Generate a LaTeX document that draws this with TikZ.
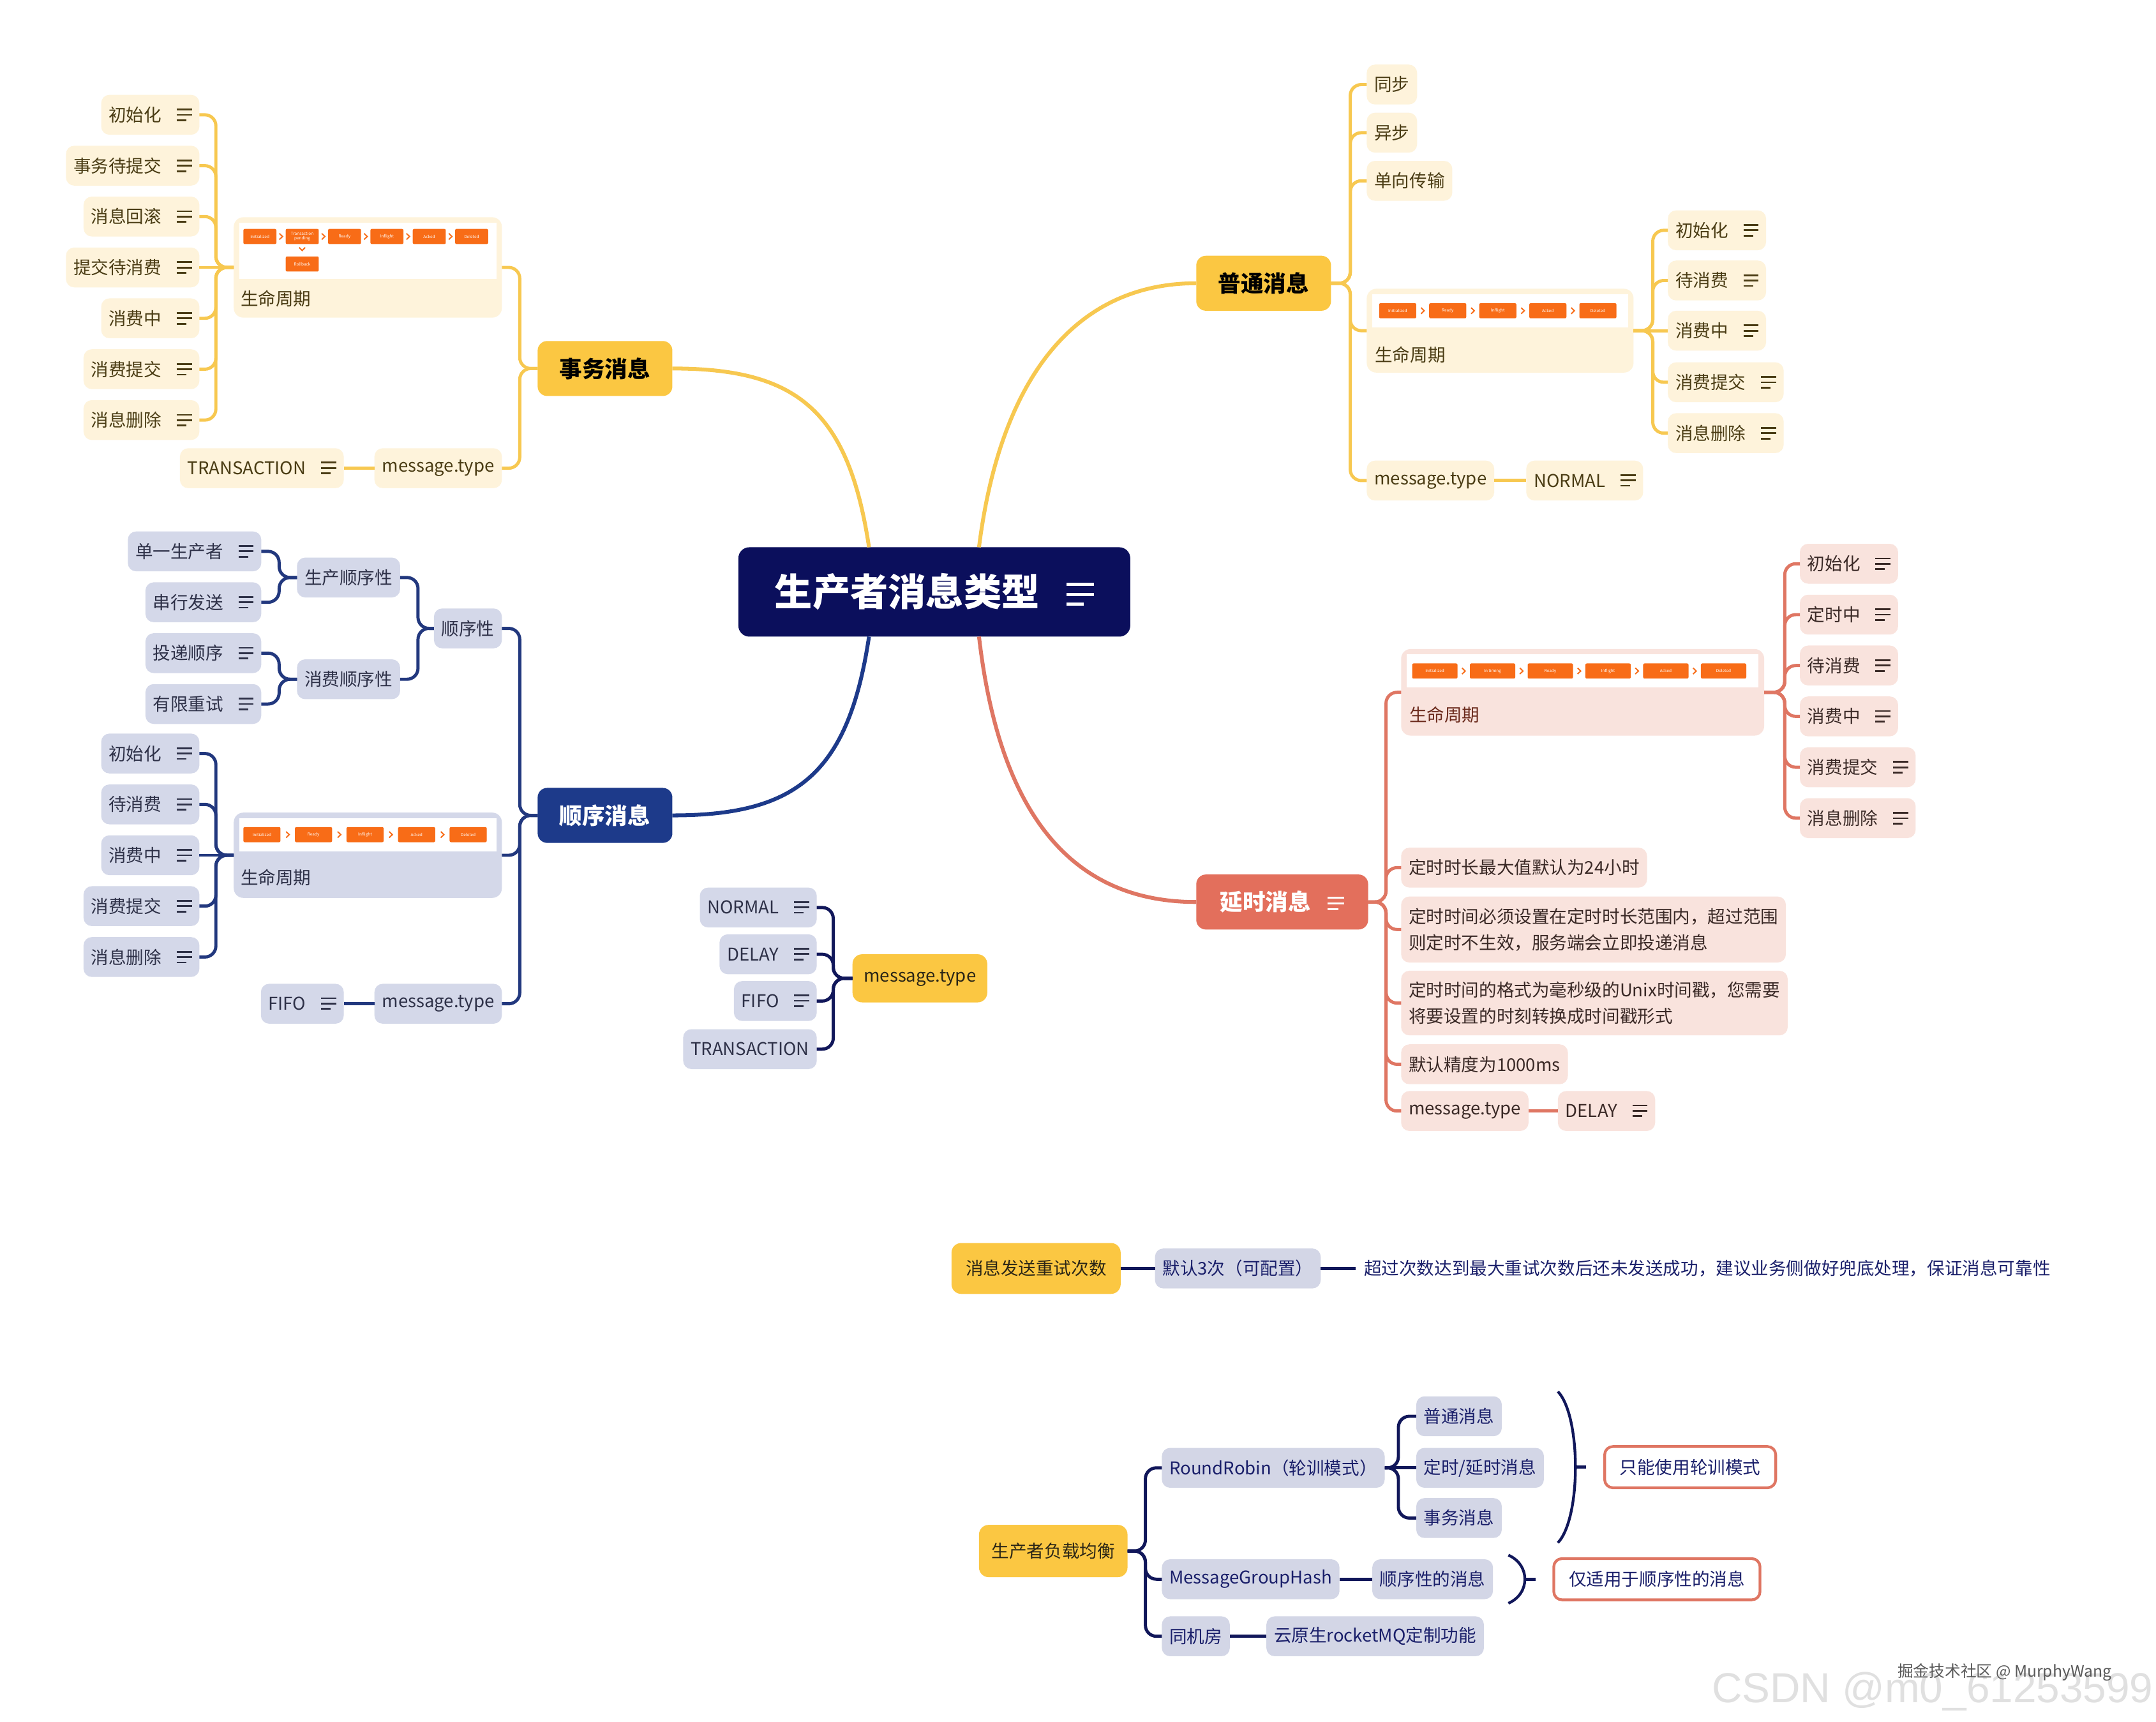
\documentclass[tikz,border=0pt]{standalone}
\usepackage{fontspec}
\setmainfont{Noto Sans CJK SC}
\newfontfamily\wmfont{Liberation Sans}
\definecolor{cyel}{HTML}{FBC742}
\definecolor{cyelline}{HTML}{F7C850}
\definecolor{cyelfill}{HTML}{FEF3DB}
\definecolor{cyeltext}{HTML}{4A3C14}
\definecolor{cdark}{HTML}{2B2616}
\definecolor{cnavy}{HTML}{0B0F5C}
\definecolor{cblue}{HTML}{1D3A8A}
\definecolor{cblueline}{HTML}{22387E}
\definecolor{cgrey}{HTML}{D4D8E9}
\definecolor{cgreytext}{HTML}{2E3148}
\definecolor{cred}{HTML}{E36F5C}
\definecolor{credline}{HTML}{DF7663}
\definecolor{credfill}{HTML}{F9E3DD}
\definecolor{credtext}{HTML}{3A2926}
\definecolor{credlab}{HTML}{6B2A1C}
\definecolor{corange}{HTML}{F86C17}
\definecolor{cbotline}{HTML}{11175A}
\definecolor{cbottext}{HTML}{1A1F6A}
\definecolor{cgrey2}{HTML}{D3D6E6}

\newcommand{\menuic}[1][1]{%
 \hspace{#1\dimexpr 11pt\relax}%
 \raisebox{#1\dimexpr 0.3pt\relax}{\vbox{%
   \hrule width #1\dimexpr 11pt\relax height #1\dimexpr 1.3pt\relax
   \vskip #1\dimexpr 2.6pt\relax
   \hrule width #1\dimexpr 11pt\relax height #1\dimexpr 1.3pt\relax
   \vskip #1\dimexpr 2.6pt\relax
   \hrule width #1\dimexpr 7pt\relax height #1\dimexpr 1.3pt\relax}}}

\newcommand{\elR}[4]{\draw[#1] (#2.east) -- (#2.east -| #3) -- (#4.west -| #3) -- (#4.west);}
\newcommand{\elL}[4]{\draw[#1] (#2.west) -- (#2.west -| #3) -- (#4.east -| #3) -- (#4.east);}

\newcommand{\chiprow}[6]{%
  \foreach \t [count=\i from 0] in {#6} {%
    \node[chip, minimum width=#5pt] (#1\i) at ({#2+\i*#4},#3) {\t};
    \ifnum\i>0
      \pgfmathsetmacro{\cx}{#2+\i*#4-(#4-#5)/2}
      \draw[chev] ({\cx-1.2},{#3-2.2}) -- ({\cx+1.1},#3) -- ({\cx-1.2},{#3+2.2});
    \fi
  }}

\begin{document}
\begin{tikzpicture}[x=1pt,y=-1pt,
  every node/.style={inner sep=0pt, outer sep=0pt},
  f/.style={font=\fontsize{12.8}{15.5}\selectfont},
  box/.style={f, rounded corners=6pt, inner xsep=5.5pt, inner ysep=0pt, minimum height=29pt, anchor=west},
  yleaf/.style={box, fill=cyelfill, text=cyeltext},
  gleaf/.style={box, fill=cgrey, text=cgreytext},
  rleaf/.style={box, fill=credfill, text=credtext},
  bleaf/.style={box, fill=cgrey2, text=cbottext},
  lcbox/.style={rounded corners=7pt, anchor=west},
  chip/.style={fill=corange, text=white, rounded corners=1pt, minimum height=11pt, font=\fontsize{3}{3.4}\selectfont, anchor=west, align=center},
  chev/.style={draw=corange, line width=0.9pt},
  mainbox/.style={rounded corners=7pt, minimum height=40pt, font=\fontsize{16.5}{20}\selectfont\bfseries, anchor=west},
  conn/.style={line width=2.3pt, rounded corners=8pt},
  yconn/.style={conn, draw=cyelline},
  bconn/.style={conn, draw=cblueline},
  rconn/.style={conn, draw=credline},
  nconn/.style={conn, draw=cbotline},
]
\useasboundingbox[fill=white] (0,0) rectangle (1568,1252);

% ---------- centre and main branches
\node[fill=cnavy, text=white, rounded corners=8pt, minimum width=285pt, minimum height=65pt,
      font=\fontsize{27.5}{32}\selectfont\bfseries] (ct) at (679.5,430.5) {生产者消息类型\menuic[1.8]};
\node[mainbox, fill=cyel, text=black, minimum width=98pt] (pt) at (870,206) {普通消息};
\node[mainbox, fill=cyel, text=black, minimum width=98pt] (tw) at (391,268) {事务消息};
\node[mainbox, fill=cblue, text=white, minimum width=98pt] (sx) at (391,593) {顺序消息};
\node[mainbox, fill=cred, text=white, minimum width=125pt] (ys) at (870,656) {延时消息\menuic[1.1]};

\draw[yconn, line width=2.8pt] ([xshift=32.5pt]ct.north) .. controls +(15,-120) and +(-90,0) .. (pt.west);
\draw[yconn, line width=2.8pt] ([xshift=-47.5pt]ct.north) .. controls +(-15,-100) and +(90,0) .. (tw.east);
\draw[conn, draw=cblue, line width=2.8pt] ([xshift=-47.5pt]ct.south) .. controls +(-15,100) and +(90,0) .. (sx.east);
\draw[rconn, line width=2.8pt] ([xshift=32.5pt]ct.south) .. controls +(15,130) and +(-90,0) .. (ys.west);

% ---------- 普通消息
\coordinate (s1) at (982,0);
\coordinate (s2) at (1202,0);
\node[yleaf] (p1) at (994,61.5) {同步};
\node[yleaf] (p2) at (994,96.5) {异步};
\node[yleaf] (p3) at (994,131.5) {单向传输};
\node[lcbox, fill=cyelfill, minimum width=194pt, minimum height=61pt] (plc) at (994,240.5) {};
\fill[white] (998,214) rectangle (1184,238);
\chiprow{pc}{1003}{226}{36.4}{27}{Initialized,Ready,Inflight,Acked,Deleted}
\node[f, text=cyeltext, anchor=west] (plcl) at (1000,258) {生命周期};
\node[yleaf] (pm) at (994,349.5) {message.type};
\node[yleaf] (pn) at (1110,349.5) {NORMAL\menuic};
\node[yleaf] (pa) at (1213,167.5) {初始化\menuic};
\node[yleaf] (pb) at (1213,204) {待消费\menuic};
\node[yleaf] (pcc) at (1213,240.5) {消费中\menuic};
\node[yleaf] (pd) at (1213,278) {消费提交\menuic};
\node[yleaf] (pe) at (1213,315) {消息删除\menuic};
\foreach \c in {p1,p2,p3,plc,pm} {\elR{yconn}{pt}{s1}{\c}}
\draw[yconn] (pm.east) -- (pn.west);
\foreach \c in {pa,pb,pd,pe} {\elR{yconn}{plc}{s2}{\c}}
\draw[yconn] (plc.east) -- (pcc.west);

% ---------- 事务消息
\coordinate (s3) at (378,0);
\coordinate (s4) at (157,0);
\node[lcbox, anchor=east, fill=cyelfill, minimum width=195pt, minimum height=73pt] (tlc) at (365,194.5) {};
\fill[white] (174,162) rectangle (361,203);
\chiprow{tc}{177}{172}{30.8}{24}{Initialized,{Transaction\\pending},Ready,Inflight,Acked,Deleted}
\draw[chev] (217.6,180) -- (219.8,182.2) -- (222,180);
\node[chip, minimum width=24pt] (trb) at (207.8,192) {Rollback};
\node[f, text=cyeltext, anchor=west] (tlcl) at (175,217) {生命周期};
\node[yleaf, anchor=east] (tm) at (365,340.5) {message.type};
\node[yleaf, anchor=east] (tt) at (250,340.5) {TRANSACTION\menuic};
\node[yleaf, anchor=east] (t1) at (145,83.5) {初始化\menuic};
\node[yleaf, anchor=east] (t2) at (145,120.5) {事务待提交\menuic};
\node[yleaf, anchor=east] (t3) at (145,157.5) {消息回滚\menuic};
\node[yleaf, anchor=east] (t4) at (145,194.5) {提交待消费\menuic};
\node[yleaf, anchor=east] (t5) at (145,231.5) {消费中\menuic};
\node[yleaf, anchor=east] (t6) at (145,268.5) {消费提交\menuic};
\node[yleaf, anchor=east] (t7) at (145,305.5) {消息删除\menuic};
\foreach \c in {tlc,tm} {\elL{yconn}{tw}{s3}{\c}}
\draw[yconn] (tm.west) -- (tt.east);
\foreach \c in {t1,t2,t3,t5,t6,t7} {\elL{yconn}{tlc}{s4}{\c}}
\draw[yconn] (tlc.west) -- (t4.east);

% ---------- 顺序消息
\coordinate (s5) at (378,0);
\coordinate (s6) at (304,0);
\coordinate (s7) at (203,0);
\coordinate (s8) at (157,0);
\node[gleaf, anchor=east] (q0) at (365,457) {顺序性};
\node[gleaf, anchor=east] (q1) at (291,420) {生产顺序性};
\node[gleaf, anchor=east] (q2) at (291,494) {消费顺序性};
\node[gleaf, anchor=east] (q11) at (190,401) {单一生产者\menuic};
\node[gleaf, anchor=east] (q12) at (190,438) {串行发送\menuic};
\node[gleaf, anchor=east] (q21) at (190,475) {投递顺序\menuic};
\node[gleaf, anchor=east] (q22) at (190,512) {有限重试\menuic};
\node[lcbox, anchor=east, fill=cgrey, minimum width=195pt, minimum height=62pt] (qlc) at (365,622) {};
\fill[white] (174,595) rectangle (361,619);
\chiprow{qc}{177}{607}{37.5}{27}{Initialized,Ready,Inflight,Acked,Deleted}
\node[f, text=cgreytext, anchor=west] (qlcl) at (175,638) {生命周期};
\node[gleaf, anchor=east] (q31) at (145,548) {初始化\menuic};
\node[gleaf, anchor=east] (q32) at (145,585) {待消费\menuic};
\node[gleaf, anchor=east] (q33) at (145,622) {消费中\menuic};
\node[gleaf, anchor=east] (q34) at (145,659) {消费提交\menuic};
\node[gleaf, anchor=east] (q35) at (145,696) {消息删除\menuic};
\node[gleaf, anchor=east] (qm) at (365,730) {message.type};
\node[gleaf, anchor=east] (qf) at (250,730) {FIFO\menuic};
\foreach \c in {q0,qlc,qm} {\elL{bconn}{sx}{s5}{\c}}
\foreach \c in {q1,q2} {\elL{bconn}{q0}{s6}{\c}}
\foreach \c in {q11,q12} {\elL{bconn}{q1}{s7}{\c}}
\foreach \c in {q21,q22} {\elL{bconn}{q2}{s7}{\c}}
\foreach \c in {q31,q32,q34,q35} {\elL{bconn}{qlc}{s8}{\c}}
\draw[bconn] (qlc.west) -- (q33.east);
\draw[bconn] (qm.west) -- (qf.east);

% ---------- message.type (standalone)
\coordinate (s9) at (606,0);
\node[box, fill=cyel, text=cdark, minimum width=98pt, minimum height=35pt, rounded corners=7pt] (mt) at (620,711.5) {message.type};
\node[gleaf, anchor=east] (m1) at (594,660) {NORMAL\menuic};
\node[gleaf, anchor=east] (m2) at (594,694) {DELAY\menuic};
\node[gleaf, anchor=east] (m3) at (594,728) {FIFO\menuic};
\node[gleaf, anchor=east] (m4) at (594,763) {TRANSACTION};
\foreach \c in {m1,m2,m3,m4} {\elL{nconn}{mt}{s9}{\c}}

% ---------- 延时消息
\coordinate (s10) at (1008,0);
\coordinate (s11) at (1298,0);
\node[lcbox, fill=credfill, minimum width=264pt, minimum height=63pt] (ylc) at (1019,503.5) {};
\fill[white] (1023,476) rectangle (1279,500);
\chiprow{yc}{1027}{488}{42}{33}{Initialized,In timing,Ready,Inflight,Acked,Deleted}
\node[f, text=credlab, anchor=west] (ylcl) at (1025,520) {生命周期};
\node[rleaf] (y1) at (1019,631) {定时时长最大值默认为24小时};
\node[rleaf, align=left, minimum height=48pt, font=\fontsize{12.8}{19}\selectfont] (y2) at (1019,676) {定时时间必须设置在定时时长范围内，超过范围\\则定时不生效，服务端会立即投递消息};
\node[rleaf, align=left, minimum height=47pt, font=\fontsize{12.8}{19}\selectfont] (y3) at (1019,729.5) {定时时间的格式为毫秒级的Unix时间戳，您需要\\将要设置的时刻转换成时间戳形式};
\node[rleaf] (y4) at (1019,774) {默认精度为1000ms};
\node[rleaf] (ym) at (1019,808) {message.type};
\node[rleaf] (yd) at (1133,808) {DELAY\menuic};
\node[rleaf] (ya) at (1309,410) {初始化\menuic};
\node[rleaf] (yb) at (1309,447) {定时中\menuic};
\node[rleaf] (yc2) at (1309,484) {待消费\menuic};
\node[rleaf] (ydd) at (1309,521) {消费中\menuic};
\node[rleaf] (ye) at (1309,558) {消费提交\menuic};
\node[rleaf] (yf) at (1309,595) {消息删除\menuic};
\foreach \c in {ylc,y1,y2,y3,y4,ym} {\elR{rconn}{ys}{s10}{\c}}
\draw[rconn] (ym.east) -- (yd.west);
\foreach \c in {ya,yb,yc2,ydd,ye,yf} {\elR{rconn}{ylc}{s11}{\c}}

% ---------- 消息发送重试次数
\node[box, fill=cyel, text=cdark, minimum width=123pt, minimum height=37pt, rounded corners=7pt] (ry) at (692,922.5) {消息发送重试次数};
\node[bleaf] (rd) at (840,922.5) {默认3次（可配置）};
\node[f, text=cbottext, anchor=west, inner xsep=6pt] (rt) at (986,922.5) {超过次数达到最大重试次数后还未发送成功，建议业务侧做好兜底处理，保证消息可靠性};
\draw[nconn] (ry.east) -- (rd.west);
\draw[nconn] (rd.east) -- (rt.west);

% ---------- 生产者负载均衡
\coordinate (s12) at (833,0);
\coordinate (s13) at (1017,0);
\node[box, fill=cyel, text=cdark, minimum width=108pt, minimum height=38pt, rounded corners=7pt] (lb) at (712,1128) {生产者负载均衡};
\node[bleaf] (l1) at (845,1067.5) {RoundRobin（轮训模式）};
\node[bleaf] (l2) at (845,1148.5) {MessageGroupHash};
\node[bleaf] (l3) at (845,1190) {同机房};
\node[bleaf] (l4) at (921,1190) {云原生rocketMQ定制功能};
\node[bleaf] (r1) at (1030,1030) {普通消息};
\node[bleaf] (r2) at (1030,1067.5) {定时/延时消息};
\node[bleaf] (r3) at (1030,1104) {事务消息};
\node[bleaf] (l5) at (998,1148.5) {顺序性的消息};
\foreach \c in {l1,l2,l3} {\elR{nconn}{lb}{s12}{\c}}
\draw[nconn] (l3.east) -- (l4.west);
\draw[nconn] (l2.east) -- (l5.west);
\foreach \c in {r1,r3} {\elR{nconn}{l1}{s13}{\c}}
\draw[nconn] (l1.east) -- (r2.west);
\draw[nconn, line width=2pt] (1133,1012) .. controls (1150,1030) and (1150,1104) .. (1133,1122);
\coordinate (b1) at (1145.5,1067);
\draw[nconn] (b1) -- ++(8,0);
\draw[nconn, line width=2pt] (1097,1131) .. controls (1113,1138) and (1113,1159) .. (1097,1166);
\coordinate (b2) at (1109,1148.5);
\draw[nconn] (b2) -- ++(8,0);
\node[box, fill=white, draw=credline, line width=2pt, text=cbottext, minimum height=30pt, inner xsep=11pt] (o1) at (1167,1067) {只能使用轮训模式};
\node[box, fill=white, draw=credline, line width=2pt, text=cbottext, minimum height=30pt, inner xsep=11pt] (o2) at (1130,1148.5) {仅适用于顺序性的消息};

% ---------- watermark
\node[font=\wmfont\fontsize{30.5}{31}\selectfont, text=black!12, anchor=base west] (wm1) at (1245,1238) {CSDN @m0\_61253599};
\node[font=\fontsize{11.5}{12}\selectfont, text=black!65, anchor=west] (wm2) at (1380,1216) {掘金技术社区 @ MurphyWang};
\end{tikzpicture}
\end{document}
